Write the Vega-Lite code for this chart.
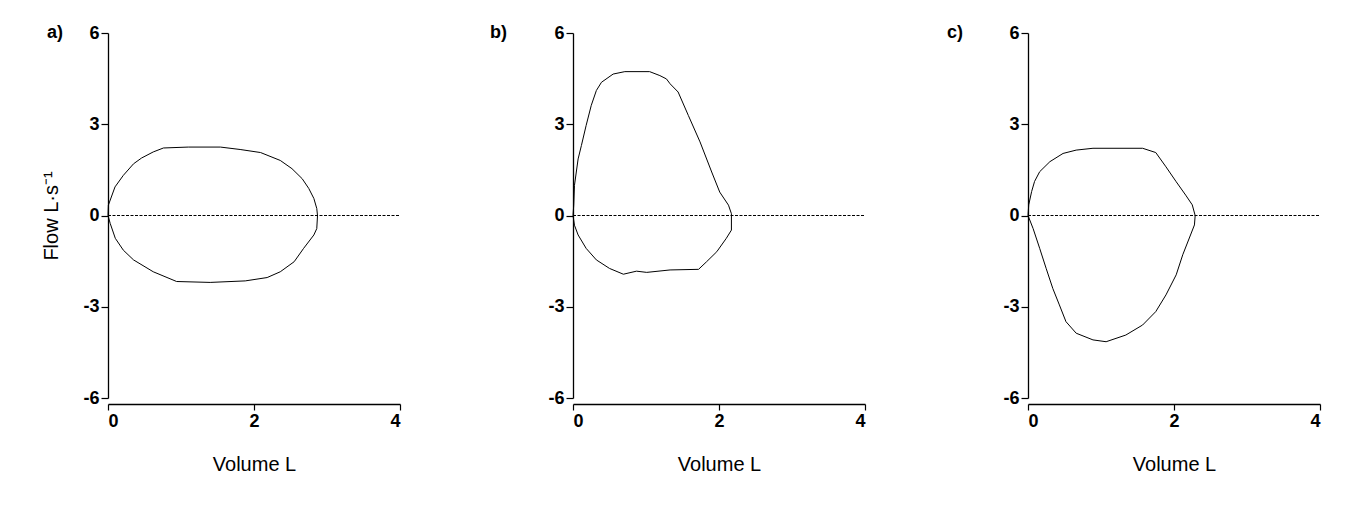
{
  "$schema": "https://vega.github.io/schema/vega-lite/v6.json",
  "padding": {"left": 41, "top": 24, "right": 5, "bottom": 5},
  "background": "white",
  "config": {
    "view": {"stroke": null},
    "font": "Liberation Sans",
    "axis": {
      "grid": false,
      "domainColor": "black",
      "tickColor": "black",
      "labelColor": "black",
      "titleColor": "black",
      "labelFont": "Liberation Sans",
      "labelFontSize": 18,
      "labelFontWeight": "bold",
      "titleFont": "Liberation Sans",
      "titleFontSize": 20,
      "titleFontWeight": "normal",
      "domainWidth": 1.3,
      "tickWidth": 1.2,
      "labelExpr": "'' + datum.value"
    },
    "title": {"font": "Liberation Sans", "fontSize": 18, "fontWeight": "bold", "color": "black"}
  },
  "datasets": {
    "loops": [
      {"p":"a","i":0,"v":0,"f":0},
      {"p":"a","i":1,"v":0.005,"f":0.34},
      {"p":"a","i":2,"v":0.096,"f":0.94},
      {"p":"a","i":3,"v":0.21,"f":1.32},
      {"p":"a","i":4,"v":0.35,"f":1.70},
      {"p":"a","i":5,"v":0.46,"f":1.89},
      {"p":"a","i":6,"v":0.62,"f":2.09},
      {"p":"a","i":7,"v":0.76,"f":2.22},
      {"p":"a","i":8,"v":1.10,"f":2.25},
      {"p":"a","i":9,"v":1.54,"f":2.25},
      {"p":"a","i":10,"v":1.81,"f":2.17},
      {"p":"a","i":11,"v":2.09,"f":2.07},
      {"p":"a","i":12,"v":2.36,"f":1.81},
      {"p":"a","i":13,"v":2.52,"f":1.54},
      {"p":"a","i":14,"v":2.66,"f":1.21},
      {"p":"a","i":15,"v":2.75,"f":0.89},
      {"p":"a","i":16,"v":2.82,"f":0.56},
      {"p":"a","i":17,"v":2.86,"f":0.23},
      {"p":"a","i":18,"v":2.87,"f":0},
      {"p":"a","i":19,"v":2.86,"f":-0.43},
      {"p":"a","i":20,"v":2.82,"f":-0.64},
      {"p":"a","i":21,"v":2.68,"f":-1.08},
      {"p":"a","i":22,"v":2.55,"f":-1.52},
      {"p":"a","i":23,"v":2.36,"f":-1.85},
      {"p":"a","i":24,"v":2.18,"f":-2.04},
      {"p":"a","i":25,"v":1.88,"f":-2.15},
      {"p":"a","i":26,"v":1.40,"f":-2.20},
      {"p":"a","i":27,"v":0.94,"f":-2.17},
      {"p":"a","i":28,"v":0.62,"f":-1.85},
      {"p":"a","i":29,"v":0.35,"f":-1.46},
      {"p":"a","i":30,"v":0.21,"f":-1.14},
      {"p":"a","i":31,"v":0.10,"f":-0.75},
      {"p":"a","i":32,"v":0.03,"f":-0.26},
      {"p":"a","i":33,"v":0,"f":0},
      {"p":"b","i":0,"v":0,"f":0},
      {"p":"b","i":1,"v":0.01,"f":0.34},
      {"p":"b","i":2,"v":0.02,"f":0.99},
      {"p":"b","i":3,"v":0.07,"f":1.86},
      {"p":"b","i":4,"v":0.115,"f":2.30},
      {"p":"b","i":5,"v":0.18,"f":2.96},
      {"p":"b","i":6,"v":0.25,"f":3.62},
      {"p":"b","i":7,"v":0.32,"f":4.11},
      {"p":"b","i":8,"v":0.39,"f":4.38},
      {"p":"b","i":9,"v":0.55,"f":4.65},
      {"p":"b","i":10,"v":0.71,"f":4.73},
      {"p":"b","i":11,"v":1.05,"f":4.73},
      {"p":"b","i":12,"v":1.19,"f":4.60},
      {"p":"b","i":13,"v":1.28,"f":4.49},
      {"p":"b","i":14,"v":1.33,"f":4.33},
      {"p":"b","i":15,"v":1.44,"f":4.06},
      {"p":"b","i":16,"v":1.58,"f":3.29},
      {"p":"b","i":17,"v":1.74,"f":2.42},
      {"p":"b","i":18,"v":1.90,"f":1.43},
      {"p":"b","i":19,"v":2.01,"f":0.77},
      {"p":"b","i":20,"v":2.13,"f":0.34},
      {"p":"b","i":21,"v":2.17,"f":0.06},
      {"p":"b","i":22,"v":2.17,"f":-0.48},
      {"p":"b","i":23,"v":2.10,"f":-0.75},
      {"p":"b","i":24,"v":1.97,"f":-1.19},
      {"p":"b","i":25,"v":1.83,"f":-1.52},
      {"p":"b","i":26,"v":1.72,"f":-1.77},
      {"p":"b","i":27,"v":1.33,"f":-1.79},
      {"p":"b","i":28,"v":1.01,"f":-1.87},
      {"p":"b","i":29,"v":0.87,"f":-1.83},
      {"p":"b","i":30,"v":0.69,"f":-1.93},
      {"p":"b","i":31,"v":0.50,"f":-1.74},
      {"p":"b","i":32,"v":0.32,"f":-1.46},
      {"p":"b","i":33,"v":0.18,"f":-1.08},
      {"p":"b","i":34,"v":0.07,"f":-0.64},
      {"p":"b","i":35,"v":0.02,"f":-0.32},
      {"p":"b","i":36,"v":0,"f":0},
      {"p":"c","i":0,"v":0,"f":0},
      {"p":"c","i":1,"v":0.01,"f":0.35},
      {"p":"c","i":2,"v":0.05,"f":0.79},
      {"p":"c","i":3,"v":0.09,"f":1.12},
      {"p":"c","i":4,"v":0.16,"f":1.44},
      {"p":"c","i":5,"v":0.30,"f":1.77},
      {"p":"c","i":6,"v":0.48,"f":2.04},
      {"p":"c","i":7,"v":0.66,"f":2.15},
      {"p":"c","i":8,"v":0.89,"f":2.21},
      {"p":"c","i":9,"v":1.57,"f":2.21},
      {"p":"c","i":10,"v":1.75,"f":2.07},
      {"p":"c","i":11,"v":1.89,"f":1.60},
      {"p":"c","i":12,"v":2.03,"f":1.11},
      {"p":"c","i":13,"v":2.16,"f":0.67},
      {"p":"c","i":14,"v":2.25,"f":0.35},
      {"p":"c","i":15,"v":2.29,"f":0},
      {"p":"c","i":16,"v":2.28,"f":-0.31},
      {"p":"c","i":17,"v":2.21,"f":-0.74},
      {"p":"c","i":18,"v":2.12,"f":-1.29},
      {"p":"c","i":19,"v":2.03,"f":-1.95},
      {"p":"c","i":20,"v":1.89,"f":-2.61},
      {"p":"c","i":21,"v":1.75,"f":-3.16},
      {"p":"c","i":22,"v":1.57,"f":-3.60},
      {"p":"c","i":23,"v":1.34,"f":-3.93},
      {"p":"c","i":24,"v":1.07,"f":-4.15},
      {"p":"c","i":25,"v":0.89,"f":-4.09},
      {"p":"c","i":26,"v":0.66,"f":-3.87},
      {"p":"c","i":27,"v":0.52,"f":-3.49},
      {"p":"c","i":28,"v":0.43,"f":-2.94},
      {"p":"c","i":29,"v":0.34,"f":-2.40},
      {"p":"c","i":30,"v":0.25,"f":-1.75},
      {"p":"c","i":31,"v":0.16,"f":-1.08},
      {"p":"c","i":32,"v":0.07,"f":-0.43},
      {"p":"c","i":33,"v":0,"f":0}
    ],
    "zero": [{"v0": 0, "v1": 4, "f": 0}]
  },
  "bounds": "flush",
  "spacing": 173,
  "hconcat": [
    {
      "width": 292,
      "height": 365,
      "title": {"text": "a)", "anchor": "start", "frame": "group", "orient": "top", "offset": 0, "baseline": "middle", "dx": -61, "dy": 27},
      "layer": [
        {
          "data": {"name": "loops"},
          "transform": [{"filter": "datum.p === 'a'"}],
          "mark": {"type": "line", "stroke": "black", "strokeWidth": 1},
          "encoding": {
            "x": {"field": "v", "type": "quantitative", "scale": {"domain": [0, 4], "nice": false}, "axis": {"values": [0, 2, 4], "offset": 6, "tickSize": 6, "labelPadding": 2, "titlePadding": 24, "title": "Volume L"}},
            "y": {"field": "f", "type": "quantitative", "scale": {"domain": [-6, 6], "nice": false}, "axis": {"values": [-6, -3, 0, 3, 6], "tickSize": 7, "labelPadding": 2, "titlePadding": 21, "title": "Flow L·s⁻¹"}},
            "order": {"field": "i", "type": "quantitative"}
          }
        },
        {
          "data": {"name": "zero"},
          "mark": {"type": "rule", "stroke": "black", "strokeWidth": 1, "strokeDash": [3, 1.5]},
          "encoding": {
            "x": {"field": "v0", "type": "quantitative"},
            "x2": {"field": "v1"},
            "y": {"field": "f", "type": "quantitative"}
          }
        }
      ]
    },
    {
      "bounds": "flush",
      "spacing": 163,
      "hconcat": [
        {
          "width": 292,
          "height": 365,
          "title": {"text": "b)", "anchor": "start", "frame": "group", "orient": "top", "offset": 0, "baseline": "middle", "dx": -83, "dy": 27},
          "layer": [
            {
              "data": {"name": "loops"},
              "transform": [{"filter": "datum.p === 'b'"}],
              "mark": {"type": "line", "stroke": "black", "strokeWidth": 1},
              "encoding": {
                "x": {"field": "v", "type": "quantitative", "scale": {"domain": [0, 4], "nice": false}, "axis": {"values": [0, 2, 4], "offset": 6, "tickSize": 6, "labelPadding": 2, "titlePadding": 24, "title": "Volume L"}},
                "y": {"field": "f", "type": "quantitative", "scale": {"domain": [-6, 6], "nice": false}, "axis": {"values": [-6, -3, 0, 3, 6], "tickSize": 7, "labelPadding": 2, "title": null}},
                "order": {"field": "i", "type": "quantitative"}
              }
            },
            {
              "data": {"name": "zero"},
              "mark": {"type": "rule", "stroke": "black", "strokeWidth": 1, "strokeDash": [3, 1.5]},
              "encoding": {
                "x": {"field": "v0", "type": "quantitative"},
                "x2": {"field": "v1"},
                "y": {"field": "f", "type": "quantitative"}
              }
            }
          ]
        },
        {
          "width": 292,
          "height": 365,
          "title": {"text": "c)", "anchor": "start", "frame": "group", "orient": "top", "offset": 0, "baseline": "middle", "dx": -81, "dy": 27},
          "layer": [
            {
              "data": {"name": "loops"},
              "transform": [{"filter": "datum.p === 'c'"}],
              "mark": {"type": "line", "stroke": "black", "strokeWidth": 1},
              "encoding": {
                "x": {"field": "v", "type": "quantitative", "scale": {"domain": [0, 4], "nice": false}, "axis": {"values": [0, 2, 4], "offset": 6, "tickSize": 6, "labelPadding": 2, "titlePadding": 24, "title": "Volume L"}},
                "y": {"field": "f", "type": "quantitative", "scale": {"domain": [-6, 6], "nice": false}, "axis": {"values": [-6, -3, 0, 3, 6], "tickSize": 7, "labelPadding": 2, "title": null}},
                "order": {"field": "i", "type": "quantitative"}
              }
            },
            {
              "data": {"name": "zero"},
              "mark": {"type": "rule", "stroke": "black", "strokeWidth": 1, "strokeDash": [3, 1.5]},
              "encoding": {
                "x": {"field": "v0", "type": "quantitative"},
                "x2": {"field": "v1"},
                "y": {"field": "f", "type": "quantitative"}
              }
            }
          ]
        }
      ]
    }
  ]
}
